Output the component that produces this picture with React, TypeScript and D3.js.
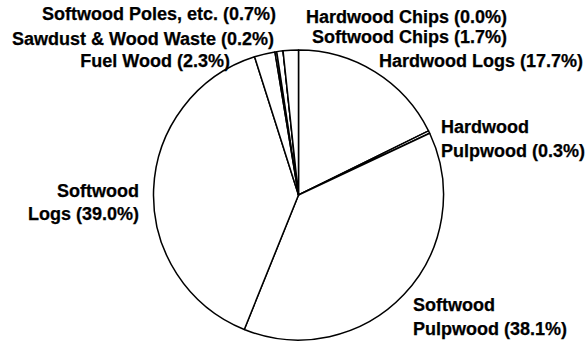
import React from "react";
import * as d3 from "d3";

const categories = [
  "Hardwood Logs",
  "Hardwood Pulpwood",
  "Softwood Pulpwood",
  "Softwood Logs",
  "Fuel Wood",
  "Sawdust & Wood Waste",
  "Softwood Poles, etc.",
  "Hardwood Chips",
  "Softwood Chips",
];
const values = [17.7, 0.3, 38.1, 39.0, 2.3, 0.2, 0.7, 0.0, 1.7];

// label layout: lines, anchor x, first baseline y, anchor, line gap
const labelLayout: Record<string, { lines: string[]; x: number; y: number; anchor: string; gap: number }> = {
  "Hardwood Logs": { lines: ["Hardwood Logs (17.7%)"], x: 583, y: 67, anchor: "end", gap: 0 },
  "Hardwood Pulpwood": { lines: ["Hardwood", "Pulpwood (0.3%)"], x: 441, y: 133, anchor: "start", gap: 23.5 },
  "Softwood Pulpwood": { lines: ["Softwood", "Pulpwood (38.1%)"], x: 413, y: 311, anchor: "start", gap: 23.5 },
  "Softwood Logs": { lines: ["Softwood", "Logs (39.0%)"], x: 139, y: 197, anchor: "end", gap: 22.5 },
  "Fuel Wood": { lines: ["Fuel Wood (2.3%)"], x: 230, y: 67, anchor: "end", gap: 0 },
  "Sawdust & Wood Waste": { lines: ["Sawdust & Wood Waste (0.2%)"], x: 274, y: 45, anchor: "end", gap: 0 },
  "Softwood Poles, etc.": { lines: ["Softwood Poles, etc. (0.7%)"], x: 276, y: 20, anchor: "end", gap: 0 },
  "Hardwood Chips": { lines: ["Hardwood Chips (0.0%)"], x: 507, y: 23, anchor: "end", gap: 0 },
  "Softwood Chips": { lines: ["Softwood Chips (1.7%)"], x: 507, y: 43, anchor: "end", gap: 0 },
};

const W = 587;
const H = 346;
const cx = 298.5;
const cy = 195;
const R = 145;

export default function App() {
  const data = categories.map((c, i) => ({ c, v: values[i] }));
  const pie = d3
    .pie<{ c: string; v: number }>()
    .value((d) => d.v)
    .sort(null)
    .startAngle(0)
    .endAngle(2 * Math.PI);
  const arcs = pie(data);
  const arc = d3.arc<d3.PieArcDatum<{ c: string; v: number }>>().innerRadius(0).outerRadius(R);

  return (
    <svg
      width={W}
      height={H}
      style={{ position: "absolute", left: 0, top: 0, background: "#fff" }}
    >
      <g transform={`translate(${cx},${cy})`}>
        {arcs.map((a, i) => (
          <path
            key={i}
            d={arc(a) || ""}
            fill="#fff"
            stroke="#000"
            strokeWidth={1.5}
            strokeLinejoin="round"
          />
        ))}
      </g>
      {categories.map((c) => {
        const l = labelLayout[c];
        return (
          <text
            key={c}
            x={l.x}
            y={l.y}
            textAnchor={l.anchor as any}
            fontFamily="'Liberation Sans', Arial, sans-serif"
            fontWeight="bold"
            fontSize={18}
            fill="#000"
            stroke="#000"
            strokeWidth={0.25}
          >
            {l.lines.map((t, j) => (
              <tspan key={j} x={l.x} y={l.y + j * l.gap}>
                {t}
              </tspan>
            ))}
          </text>
        );
      })}
    </svg>
  );
}
